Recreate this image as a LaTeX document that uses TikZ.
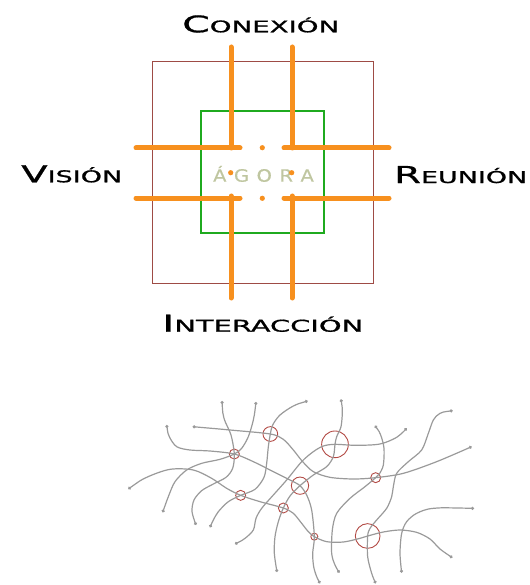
\documentclass[tikz,border=0pt]{standalone}
\usepackage{fontspec}
\usepackage{graphicx}
\setmainfont{DejaVu Sans}
\newfontfamily\lblfont[FakeBold=0.8]{DejaVu Sans}
\newfontfamily\agorafont[FakeBold=0.4]{DejaVu Sans}
\usetikzlibrary{arrows.meta}
\definecolor{orng}{HTML}{F7901E}
\definecolor{brn}{HTML}{9E4B45}
\definecolor{grn}{HTML}{1FAA1F}
\definecolor{agr}{HTML}{BFC6A0}
\definecolor{netgray}{HTML}{9A9A9A}
\definecolor{knot}{HTML}{B24A44}
\newcommand{\mylbl}[3]{\resizebox{#1}{17pt}{\lblfont{\fontsize{23}{23}\selectfont #2}{\fontsize{16.1}{16}\selectfont #3}}}
\tikzset{
  lbl/.style={anchor=base west, inner sep=0pt, text=black},
  bar/.style={draw=orng, line width=5pt, line cap=round},
  odot/.style={fill=orng},
  strand/.style={draw=netgray, line width=1.2pt, {Circle[length=3pt]}-{Circle[length=3pt]}},
  knotc/.style={draw=knot, line width=0.9pt, circle, inner sep=0pt}
}
\begin{document}
\begin{tikzpicture}[x=1pt,y=-1pt]
\useasboundingbox (0,0) rectangle (529,585);

% labels
\node[lbl] (conexion) at (182,32.3) {\mylbl{157pt}{C}{ONEXIÓN}};
\node[lbl] (vision) at (21,182.3) {\mylbl{101pt}{V}{ISIÓN}};
\node[lbl] (reunion) at (394,183) {\mylbl{133pt}{R}{EUNIÓN}};
\node[lbl] (interaccion) at (162,331.7) {\mylbl{201pt}{I}{NTERACCIÓN}};

% squares
\draw[brn, line width=1pt] (152,62) rectangle (373,283);
\draw[grn, line width=1.3pt] (201,111) rectangle (324,233);

% agora
\node[anchor=base, inner sep=0pt, text=agr] (agora) at (263.5,181.7)
  {\scalebox{1.15}[1]{\agorafont\fontsize{17}{17}\selectfont Á\kern6.5pt G\kern6.5pt O\kern6.5pt R\kern6.5pt A}};

% orange bars
\draw[bar] (231,47) -- (231,148);
\draw[bar] (292,47) -- (292,148);
\draw[bar] (231,196) -- (231,298);
\draw[bar] (292,196) -- (292,298);
\draw[bar] (136,148) -- (240,148);
\draw[bar] (284,148) -- (389,148);
\draw[bar] (136,198) -- (240,198);
\draw[bar] (284,198) -- (389,198);
\fill[odot] (262.3,147.7) circle (2.6);
\fill[odot] (230.7,172.7) circle (2.6);
\fill[odot] (291.7,172.7) circle (2.6);
\fill[odot] (262.3,198.3) circle (2.6);

% network
\begin{scope}[shift={(120,390)}, x=0.33333pt, y=-0.33333pt]
\node[knotc, minimum size=14.7pt] (c1) at (451,132) {};
\node[knotc, minimum size=10pt] (c2) at (343,192) {};
\node[knotc, minimum size=26.7pt] (c3) at (645,163) {};
\node[knotc, minimum size=17.3pt] (c4) at (540,287) {};
\node[knotc, minimum size=10pt] (c5) at (767,263) {};
\node[knotc, minimum size=10pt] (c6) at (362,316) {};
\node[knotc, minimum size=10pt] (c7) at (490,354) {};
\node[knotc, minimum size=7pt] (c8) at (583,440) {};
\node[knotc, minimum size=24.7pt] (c9) at (743,438) {};

\draw[strand] plot[smooth] coordinates {(306,33) (312,85) (333,135) (c2.center) (338,235) (318,262) (280,282) (245,302) (222,330) (216,365) (228,405)};
\draw[strand] plot[smooth] coordinates {(408,36) (400,90) (385,140) (365,175) (c2.center) (300,208) (245,220) (200,240) (165,275) (145,320) (128,367)};
\draw[strand] plot[smooth] coordinates {(140,105) (148,140) (170,170) (210,180) (270,183) (c2.center) (400,215) (460,245) (510,270) (c4.center) (560,315) (575,360) (c8.center) (578,490) (581,530) (590,560) (600,580)};
\draw[strand] plot[smooth] coordinates {(218,110) (330,120) (c1.center) (490,148) (520,180) (548,215) (580,245) (630,262) (700,267) (c5.center) (850,250) (950,215) (1055,170)};
\draw[strand] plot[smooth] coordinates {(563,33) (520,48) (480,75) (458,105) (c1.center) (445,170) (440,220) (432,262) (405,298) (c6.center) (325,335) (295,365) (280,390) (270,412)};
\draw[strand] plot[smooth] coordinates {(25,297) (80,262) (150,238) (220,240) (275,265) (320,295) (c6.center) (420,335) (c7.center) (520,370) (545,400) (565,425) (c8.center) (620,455) (670,456) (720,445) (c9.center) (790,426) (840,420) (890,427) (930,447) (960,477) (997,503)};
\draw[strand] plot[smooth] coordinates {(663,28) (667,65) (663,110) (650,140) (c3.center) (640,200) (620,230) (580,255) (c4.center) (510,318) (c7.center) (475,395) (465,440) (463,490) (471,546)};
\draw[strand] plot[smooth] coordinates {(345,462) (375,445) (400,420) (408,385) (425,355) (460,315) (500,270) (545,215) (580,185) (610,168) (c3.center) (710,166) (780,162) (830,142) (860,115)};
\draw[strand] plot[smooth] coordinates {(765,107) (782,135) (792,175) (790,225) (778,252) (c5.center) (735,290) (690,325) (650,370) (637,420) (635,490) (645,525) (658,548)};
\draw[strand] plot[smooth] coordinates {(998,62) (960,70) (940,90) (925,130) (905,180) (865,215) (830,250) (820,290) (815,320) (800,355) (770,390) (750,415) (c9.center) (743,500) (755,550) (767,580)};
\draw[strand] plot[smooth] coordinates {(1062,355) (940,355) (890,370) (860,395) (845,430) (840,490) (845,548)};
\end{scope}
\end{tikzpicture}
\end{document}
